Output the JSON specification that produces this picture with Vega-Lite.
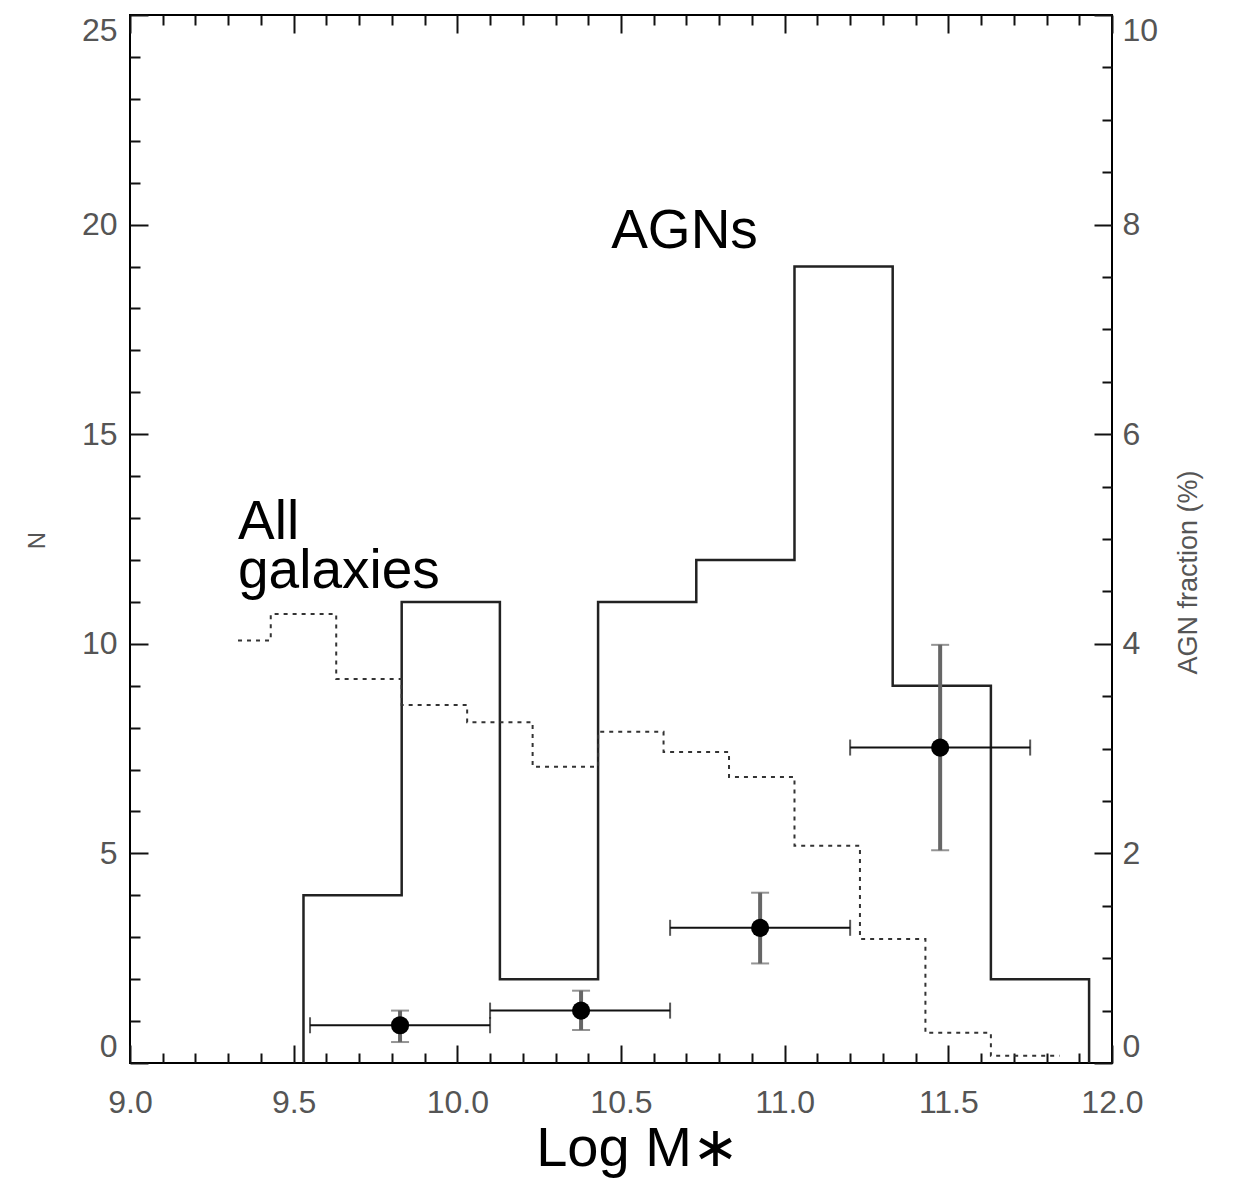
{
  "$schema": "https://vega.github.io/schema/vega-lite/v6.json",
  "width": 982,
  "height": 1048,
  "autosize": "none",
  "padding": {"left": 130, "top": 15, "right": 127, "bottom": 117},
  "background": "white",
  "config": {
    "view": {"stroke": "#000", "strokeWidth": 2},
    "axis": {
      "grid": false,
      "domain": false,
      "tickColor": "#111",
      "tickWidth": 2,
      "labelFont": "Liberation Sans",
      "labelFontSize": 32,
      "labelColor": "#555",
      "titleFont": "Liberation Sans",
      "titleFontWeight": "normal"
    }
  },
  "datasets": {
    "agn": [
      {"i": 0, "edge": 9.53, "n": 0},
      {"i": 1, "edge": 9.53, "n": 4},
      {"i": 2, "edge": 9.83, "n": 11},
      {"i": 3, "edge": 10.13, "n": 2},
      {"i": 4, "edge": 10.43, "n": 11},
      {"i": 5, "edge": 10.73, "n": 12},
      {"i": 6, "edge": 11.03, "n": 19},
      {"i": 7, "edge": 11.33, "n": 9},
      {"i": 8, "edge": 11.63, "n": 2},
      {"i": 9, "edge": 11.93, "n": 0}
    ],
    "all": [
      {"edge": 9.33, "n": 10.08},
      {"edge": 9.43, "n": 10.71},
      {"edge": 9.63, "n": 9.16},
      {"edge": 9.83, "n": 8.54},
      {"edge": 10.03, "n": 8.13},
      {"edge": 10.23, "n": 7.07},
      {"edge": 10.43, "n": 7.9},
      {"edge": 10.63, "n": 7.42},
      {"edge": 10.83, "n": 6.82},
      {"edge": 11.03, "n": 5.18},
      {"edge": 11.23, "n": 2.96},
      {"edge": 11.43, "n": 0.72},
      {"edge": 11.63, "n": 0.17},
      {"edge": 11.84, "n": 0.17}
    ],
    "frac": [
      {"logm": 9.825, "xlo": 9.55, "xhi": 10.1, "frac": 0.36, "flo": 0.2, "fhi": 0.5},
      {"logm": 10.378, "xlo": 10.1, "xhi": 10.65, "frac": 0.5, "flo": 0.315, "fhi": 0.69},
      {"logm": 10.925, "xlo": 10.65, "xhi": 11.2, "frac": 1.29, "flo": 0.95, "fhi": 1.625},
      {"logm": 11.475, "xlo": 11.2, "xhi": 11.75, "frac": 3.01, "flo": 2.03, "fhi": 3.99}
    ],
    "labels": [
      {"label": "AGNs", "x": 10.47, "y": 19.44},
      {"label": "All", "x": 9.33, "y": 12.5},
      {"label": "galaxies", "x": 9.33, "y": 11.33}
    ]
  },
  "layer": [
    {
      "data": {"name": "agn"},
      "mark": {"type": "line", "interpolate": "step-after", "color": "#222", "strokeWidth": 2.5},
      "encoding": {
        "x": {"field": "edge", "type": "quantitative", "scale": {"domain": [9, 12], "nice": false, "zero": false},
          "axis": {"orient": "bottom", "values": [9, 9.5, 10, 10.5, 11, 11.5, 12], "format": ".1f", "tickSize": -18, "labelPadding": 42, "labelFlush": false,
            "title": "Log M∗", "titleFontSize": 56, "titleColor": "#000", "titleX": 507, "titleY": 102, "titleBaseline": "alphabetic", "titleAnchor": "start", "titleAlign": "center"}},
        "y": {"field": "n", "type": "quantitative", "scale": {"domain": [0, 25], "nice": false},
          "axis": {"orient": "left", "values": [0, 5, 10, 15, 20, 25], "tickSize": -18, "labelPadding": 31, "labelFlush": true, "labelFlushOffset": 0,
            "title": "N", "titleFontSize": 24, "titleColor": "#555", "titleX": -93, "titleY": 525, "titleAngle": -90, "titleBaseline": "middle", "titleAlign": "center"}},
        "order": {"field": "i", "type": "quantitative"}
      }
    },
    {
      "data": {"name": "all"},
      "mark": {"type": "line", "interpolate": "step-after", "color": "#333", "strokeWidth": 2, "strokeDash": [4, 5]},
      "encoding": {
        "x": {"field": "edge", "type": "quantitative", "scale": {"domain": [9, 12], "nice": false, "zero": false},
          "axis": {"orient": "bottom", "values": [9.1, 9.2, 9.3, 9.4, 9.6, 9.7, 9.8, 9.9, 10.1, 10.2, 10.3, 10.4, 10.6, 10.7, 10.8, 10.9, 11.1, 11.2, 11.3, 11.4, 11.6, 11.7, 11.8, 11.9], "tickSize": -10, "labels": false, "title": null}},
        "y": {"field": "n", "type": "quantitative", "scale": {"domain": [0, 25], "nice": false},
          "axis": {"orient": "left", "values": [1, 2, 3, 4, 6, 7, 8, 9, 11, 12, 13, 14, 16, 17, 18, 19, 21, 22, 23, 24], "tickSize": -10, "labels": false, "title": null}}
      }
    },
    {
      "data": {"name": "frac"},
      "mark": {"type": "errorbar", "thickness": 2, "color": "#111", "ticks": {"size": 16, "thickness": 2, "color": "#111"}},
      "encoding": {
        "x": {"field": "xlo", "type": "quantitative", "scale": {"domain": [9, 12], "nice": false, "zero": false}, "axis": null},
        "x2": {"field": "xhi"},
        "y": {"field": "frac", "type": "quantitative", "scale": {"domain": [0, 10], "nice": false},
          "axis": {"orient": "right", "values": [0.5, 1, 1.5, 2.5, 3, 3.5, 4.5, 5, 5.5, 6.5, 7, 7.5, 8.5, 9, 9.5], "tickSize": -10, "labels": false, "title": null}}
      }
    },
    {
      "data": {"name": "frac"},
      "mark": {"type": "errorbar", "thickness": 4, "color": "#666", "ticks": {"size": 18, "thickness": 2, "color": "#666"}},
      "encoding": {
        "x": {"field": "logm", "type": "quantitative", "scale": {"domain": [9, 12], "nice": false, "zero": false},
          "axis": {"orient": "top", "values": [9.1, 9.2, 9.3, 9.4, 9.6, 9.7, 9.8, 9.9, 10.1, 10.2, 10.3, 10.4, 10.6, 10.7, 10.8, 10.9, 11.1, 11.2, 11.3, 11.4, 11.6, 11.7, 11.8, 11.9], "tickSize": -10, "labels": false, "title": null}},
        "y": {"field": "flo", "type": "quantitative", "scale": {"domain": [0, 10], "nice": false}, "axis": null},
        "y2": {"field": "fhi"}
      }
    },
    {
      "data": {"name": "frac"},
      "mark": {"type": "point", "shape": "circle", "filled": true, "color": "#000", "opacity": 1, "size": 330},
      "encoding": {
        "x": {"field": "logm", "type": "quantitative", "scale": {"domain": [9, 12], "nice": false, "zero": false},
          "axis": {"orient": "top", "values": [9, 9.5, 10, 10.5, 11, 11.5, 12], "tickSize": -18, "labels": false, "title": null}},
        "y": {"field": "frac", "type": "quantitative", "scale": {"domain": [0, 10], "nice": false},
          "axis": {"orient": "right", "values": [0, 2, 4, 6, 8, 10], "tickSize": -18, "labelPadding": 28, "labelFlush": true, "labelFlushOffset": 0,
            "title": "AGN fraction (%)", "titleFontSize": 27, "titleColor": "#555", "titleX": 76, "titleY": 557, "titleAngle": -90, "titleBaseline": "middle", "titleAlign": "center"}}
      }
    },
    {
      "data": {"name": "labels"},
      "mark": {"type": "text", "font": "Liberation Sans", "fontSize": 55, "color": "#000", "align": "left", "baseline": "alphabetic"},
      "encoding": {
        "x": {"field": "x", "type": "quantitative", "scale": {"domain": [9, 12], "nice": false, "zero": false}, "axis": null},
        "y": {"field": "y", "type": "quantitative", "scale": {"domain": [0, 25], "nice": false}, "axis": null},
        "text": {"field": "label"}
      }
    }
  ],
  "resolve": {"scale": {"y": "independent"}, "axis": {"x": "independent", "y": "independent"}}
}
